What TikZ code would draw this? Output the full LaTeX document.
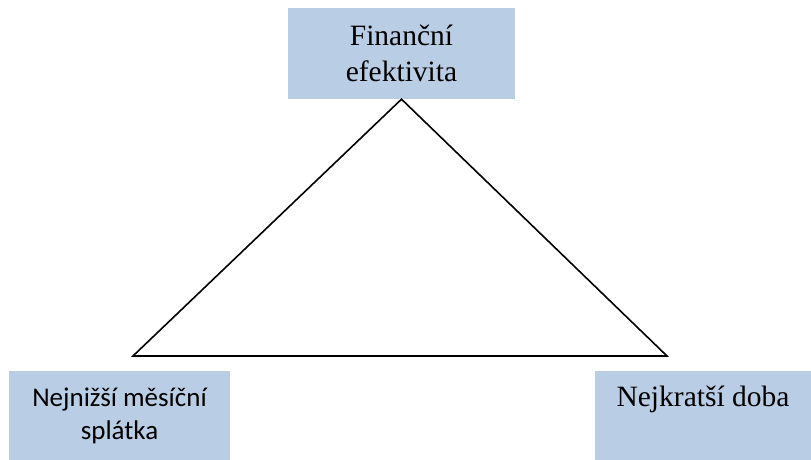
\documentclass[tikz,border=0pt]{standalone}
\usepackage{fontspec}
\setmainfont{Liberation Serif}
\newfontfamily\calfont{Carlito}
\definecolor{boxblue}{HTML}{B9CDE5}
\begin{document}
\begin{tikzpicture}[x=1pt,y=-1pt,
  box/.style={fill=boxblue, inner sep=0pt, align=center},
  serifbox/.style={box, font=\fontsize{29.5}{38.5}\selectfont},
  sansbox/.style={box, font=\calfont\fontsize{27}{33}\selectfont},
  edge/.style={draw=black, line width=1.6pt, line join=miter}]
\useasboundingbox (0,0) rectangle (811,460);
\node[serifbox, minimum width=227pt, minimum height=91pt] (fin) at (401.5,53.5) {\raisebox{-2pt}{Finanční}\\efektivita};
\node[sansbox, minimum width=221pt, minimum height=89pt] (spl) at (119.5,415.5) {Nejnižší měsíční\\splátka};
\node[serifbox, minimum width=216pt, minimum height=89pt] (doba) at (703,415.5) {Nejkratší doba\\\phantom{efektivita}};
\coordinate (L) at (133,356);
\coordinate (R) at (667,356);
\draw[edge] (fin.south) -- (L) -- (R) -- cycle;
\end{tikzpicture}
\end{document}
